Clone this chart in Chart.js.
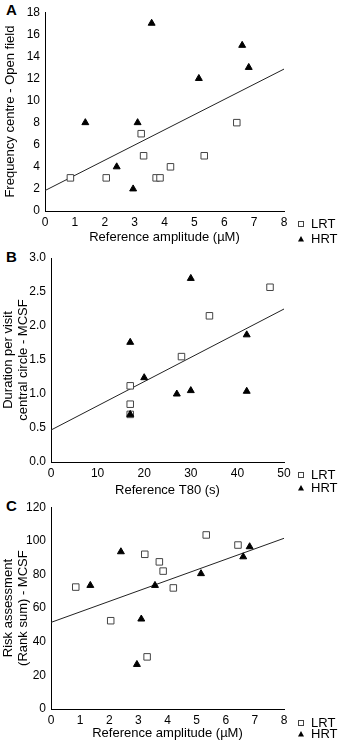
<!DOCTYPE html>
<html>
<head>
<meta charset="utf-8">
<script src="https://cdn.jsdelivr.net/npm/chart.js@4.4.1/dist/chart.umd.min.js"></script>
<style>
  html, body { margin: 0; padding: 0; background: #fff; }
  body { width: 340px; height: 745px; position: relative; overflow: hidden; }
  canvas { position: absolute; left: 0; }
  .tag { position: absolute; left: 6px; font: bold 15px "Liberation Sans", Arial, sans-serif; color: #000; }
</style>
</head>
<body>
<div class="tag" style="top:1px">A</div>
<div class="tag" style="top:248px">B</div>
<div class="tag" style="top:497px">C</div>
<canvas id="chartA" width="340" height="245" style="top:0px"></canvas>
<canvas id="chartB" width="340" height="253" style="top:245px"></canvas>
<canvas id="chartC" width="340" height="250" style="top:495px"></canvas>
<script>
// panel A - reference amplitude vs frequency centre
const ampLRT = [0.85, 2.05, 3.22, 3.3, 3.72, 3.85, 4.2, 5.33, 6.42];
const freqLRT = [3, 3, 7, 5, 3, 3, 4, 5, 8];
const ampHRT = [1.35, 2.4, 2.95, 3.1, 3.57, 5.15, 6.6, 6.82];
const freqHRT = [8, 4, 2, 8, 17, 12, 15, 13];
const fitAx = [0, 8];
const fitAy = [1.85, 12.85];

// panel B - T80 vs duration per visit
const t80LRT = [17, 17, 17, 28, 34, 47];
const durLRT = [1.12, 0.85, 0.7, 1.55, 2.15, 2.57];
const t80HRT = [17, 17, 20, 27, 30, 30, 42, 42];
const durHRT = [1.76, 0.7, 1.24, 1.0, 1.05, 2.7, 1.87, 1.04];
const fitBx = [0, 50];
const fitBy = [0.47, 2.25];

// panel C - reference amplitude vs risk assessment
const riskLRT = [72.5, 52.5, 92, 31, 87.5, 82, 72, 103.5, 97.5];
const riskHRT = [73.5, 93.5, 26.5, 53.5, 73.5, 80.5, 90.5, 96.5];
const fitCx = [0, 8];
const fitCy = [51.5, 101.5];

const groupNames = ["LRT", "HRT"];

Chart.defaults.font.family = "'Liberation Sans', Arial, sans-serif";
Chart.defaults.font.size = 12;
Chart.defaults.color = "#000";

function toPoints(xs, ys) {
    return xs.map((x, i) => ({ x: x, y: ys[i] }));
}

// small legend under the right end of the x axis
const sideLegend = {
    id: "sideLegend",
    afterDraw(chart, args, opts) {
        const ctx = chart.ctx;
        const x = chart.chartArea.right + 17;
        const y1 = chart.chartArea.bottom + opts.gap1;
        const y2 = chart.chartArea.bottom + opts.gap2;
        ctx.save();
        ctx.strokeStyle = "#444";
        ctx.lineWidth = 1;
        ctx.fillStyle = "#fff";
        ctx.fillRect(x - 2.5, y1 - 2.5, 5, 5);
        ctx.strokeRect(x - 2.5, y1 - 2.5, 5, 5);
        ctx.fillStyle = "#000";
        ctx.beginPath();
        ctx.moveTo(x, y2 - 3);
        ctx.lineTo(x + 3, y2 + 2.5);
        ctx.lineTo(x - 3, y2 + 2.5);
        ctx.closePath();
        ctx.fill();
        ctx.font = "13px 'Liberation Sans', Arial, sans-serif";
        ctx.textBaseline = "middle";
        ctx.fillText(groupNames[0], x + 10, y1);
        ctx.fillText(groupNames[1], x + 10, y2);
        ctx.restore();
    }
};

function makeChart(id, s) {
    const ctx = document.getElementById(id).getContext("2d");
    return new Chart(ctx, {
        type: "scatter",
        data: {
            datasets: [
                {
                    label: groupNames[1],
                    data: toPoints(s.hx, s.hy),
                    pointStyle: "triangle",
                    pointRadius: 4,
                    backgroundColor: "#000",
                    borderColor: "#000",
                    borderWidth: 1
                },
                {
                    label: groupNames[0],
                    data: toPoints(s.lx, s.ly),
                    pointStyle: "rect",
                    pointRadius: 4.6,
                    backgroundColor: "#fff",
                    borderColor: "#444",
                    borderWidth: 1
                },
                {
                    type: "line",
                    label: "fit",
                    data: toPoints(s.fx, s.fy),
                    borderColor: "#222",
                    borderWidth: 1,
                    pointRadius: 0,
                    fill: false
                }
            ]
        },
        options: {
            responsive: false,
            animation: false,
            devicePixelRatio: 1,
            layout: { padding: { top: s.top, right: 56, left: 0, bottom: 0 } },
            plugins: {
                legend: { display: false },
                tooltip: { enabled: false },
                sideLegend: { gap1: s.gap1, gap2: s.gap2 }
            },
            scales: {
                x: {
                    type: "linear",
                    min: s.xmin, max: s.xmax,
                    grid: { display: false, drawTicks: false },
                    border: { display: true, color: "#000", width: 1 },
                    ticks: { stepSize: s.xstep, padding: 4, font: { size: 12 } },
                    title: {
                        display: true,
                        text: s.xtitle,
                        font: { size: 13 },
                        padding: { top: 0, bottom: s.xtpad }
                    },
                    afterFit(scale) { scale.height = s.xh; }
                },
                y: {
                    type: "linear",
                    min: s.ymin, max: s.ymax,
                    grid: { display: false, drawTicks: false },
                    border: { display: true, color: "#000", width: 1 },
                    ticks: {
                        stepSize: s.ystep,
                        padding: 5,
                        font: { size: 12 },
                        callback: (v) => s.ydec ? v.toFixed(s.ydec) : v
                    },
                    title: {
                        display: true,
                        text: s.ytitle,
                        font: { size: 13, lineHeight: 1.15 },
                        padding: { top: s.ytpad, bottom: 0 }
                    },
                    afterFit(scale) { scale.width = s.yw; }
                }
            }
        },
        plugins: [sideLegend]
    });
}

makeChart("chartA", {
    lx: ampLRT, ly: freqLRT, hx: ampHRT, hy: freqHRT, fx: fitAx, fy: fitAy,
    xmin: 0, xmax: 8, xstep: 1, ymin: 0, ymax: 18, ystep: 2, ydec: 0,
    xtitle: "Reference amplitude (µM)", ytitle: "Frequency centre - Open field",
    top: 7, xh: 34, xtpad: 0, yw: 45, ytpad: 3, gap1: 13, gap2: 28
});

makeChart("chartB", {
    lx: t80LRT, ly: durLRT, hx: t80HRT, hy: durHRT, fx: fitBx, fy: fitBy,
    xmin: 0, xmax: 50, xstep: 10, ymin: 0, ymax: 3, ystep: 0.5, ydec: 1,
    xtitle: "Reference T80 (s)", ytitle: ["Duration per visit", "central circle - MCSF"],
    top: 13, xh: 36, xtpad: 0, yw: 51, ytpad: 1, gap1: 13, gap2: 26
});

makeChart("chartC", {
    lx: ampLRT, ly: riskLRT, hx: ampHRT, hy: riskHRT, fx: fitCx, fy: fitCy,
    xmin: 0, xmax: 8, xstep: 1, ymin: 0, ymax: 120, ystep: 20, ydec: 0,
    xtitle: "Reference amplitude (µM)", ytitle: ["Risk assessment", "(Rank sum) - MCSF"],
    top: 12, xh: 36, xtpad: 4, yw: 51, ytpad: 1, gap1: 14, gap2: 25
});
</script>
</body>
</html>
